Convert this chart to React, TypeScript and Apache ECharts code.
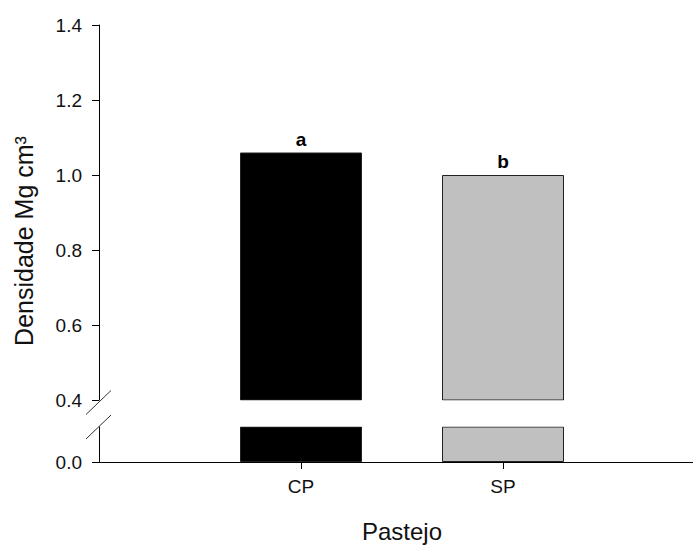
import React, { useEffect, useRef } from "react";
import * as echarts from "echarts";

const categories = ["CP", "SP"];
const densidade = [1.06, 1.0];
const letters = ["a", "b"];
const barColors = ["#000000", "#c0c0c0"];
const upperTicks = [0.4, 0.6, 0.8, 1.0, 1.2, 1.4];
const lowerTicks = [0.0];
const yTitle = "Densidade Mg cm³";
const xTitle = "Pastejo";

const FONT = "Arial, 'Liberation Sans', sans-serif";

export default function App() {
  const ref = useRef<HTMLDivElement>(null);
  useEffect(() => {
    if (!ref.current) return;
    const chart = echarts.init(ref.current, null, { renderer: "svg" });
    const axisCats = ["", ...categories, ""];
    const toData = (withLabel: boolean) => [
      null,
      ...densidade.map((v, i) => ({
        value: v,
        itemStyle: { color: barColors[i], borderColor: "#222", borderWidth: 1 },
        label: withLabel
          ? { show: true, position: "top", formatter: letters[i], distance: 4 }
          : { show: false },
      })),
      null,
    ];
    const xBase = {
      type: "category",
      data: axisCats,
      boundaryGap: false,
    };
    chart.setOption({
      animation: false,
      grid: [
        { left: 99, width: 606, top: 25, height: 375, outerBoundsMode: "none", containLabel: false },
        { left: 99, width: 606, top: 427, height: 35, outerBoundsMode: "none", containLabel: false },
      ],
      xAxis: [
        { ...xBase, gridIndex: 0, show: false },
        {
          ...xBase,
          gridIndex: 1,
          axisLine: { show: true, lineStyle: { color: "#000", width: 1 } },
          axisTick: {
            show: true,
            length: 7,
            interval: (idx: number) => idx >= 1 && idx <= categories.length,
            lineStyle: { color: "#000" },
          },
          axisLabel: {
            interval: 0,
            margin: 15,
            fontSize: 19,
            fontFamily: FONT,
            color: "#111",
          },
          name: xTitle,
          nameLocation: "middle",
          nameGap: 57,
          nameTextStyle: { fontSize: 24, fontFamily: FONT, color: "#111" },
        },
      ],
      yAxis: [
        {
          type: "value",
          gridIndex: 0,
          min: upperTicks[0],
          max: upperTicks[upperTicks.length - 1],
          interval: 0.2,
          splitLine: { show: false },
          axisLine: { show: true, lineStyle: { color: "#000", width: 1 } },
          axisTick: { show: true, length: 7, lineStyle: { color: "#000" } },
          axisLabel: {
            margin: 17,
            fontSize: 19,
            fontFamily: FONT,
            color: "#111",
            formatter: (v: number) => v.toFixed(1),
          },
        },
        {
          type: "value",
          gridIndex: 1,
          min: 0,
          max: 0.1,
          interval: 0.1,
          splitLine: { show: false },
          axisLine: { show: true, lineStyle: { color: "#000", width: 1 } },
          axisTick: {
            show: true,
            length: 7,
            customValues: lowerTicks,
            lineStyle: { color: "#000" },
          },
          axisLabel: {
            margin: 17,
            fontSize: 19,
            fontFamily: FONT,
            color: "#111",
            customValues: lowerTicks,
            formatter: (v: number) => (lowerTicks.includes(v) ? v.toFixed(1) : ""),
          },
        },
      ],
      series: [
        {
          type: "bar",
          xAxisIndex: 0,
          yAxisIndex: 0,
          barWidth: 122,
          clip: true,
          data: toData(true),
          label: {
            fontSize: 19,
            fontWeight: "bold",
            fontFamily: FONT,
            color: "#000",
          },
        },
        {
          type: "bar",
          xAxisIndex: 1,
          yAxisIndex: 1,
          barWidth: 122,
          clip: true,
          data: toData(false),
        },
      ],
      graphic: [
        {
          type: "rect",
          z: 100,
          shape: { x: 100.5, y: 400.5, width: 600, height: 26 },
          style: { fill: "#fff" },
        },
        {
          type: "line",
          z: 101,
          shape: { x1: 86, y1: 414.5, x2: 111, y2: 390.5 },
          style: { stroke: "#333", lineWidth: 1 },
        },
        {
          type: "line",
          z: 101,
          shape: { x1: 86, y1: 439, x2: 111, y2: 415 },
          style: { stroke: "#333", lineWidth: 1 },
        },
        {
          type: "text",
          z: 101,
          x: 24,
          y: 241,
          rotation: Math.PI / 2,
          style: {
            text: yTitle,
            fontSize: 25,
            fontFamily: FONT,
            fill: "#111",
            align: "center",
            verticalAlign: "middle",
          },
        },
      ],
    });
    return () => chart.dispose();
  }, []);
  return (
    <div
      ref={ref}
      style={{ position: "absolute", left: 0, top: 0, width: 693, height: 545, background: "#fff" }}
    />
  );
}
